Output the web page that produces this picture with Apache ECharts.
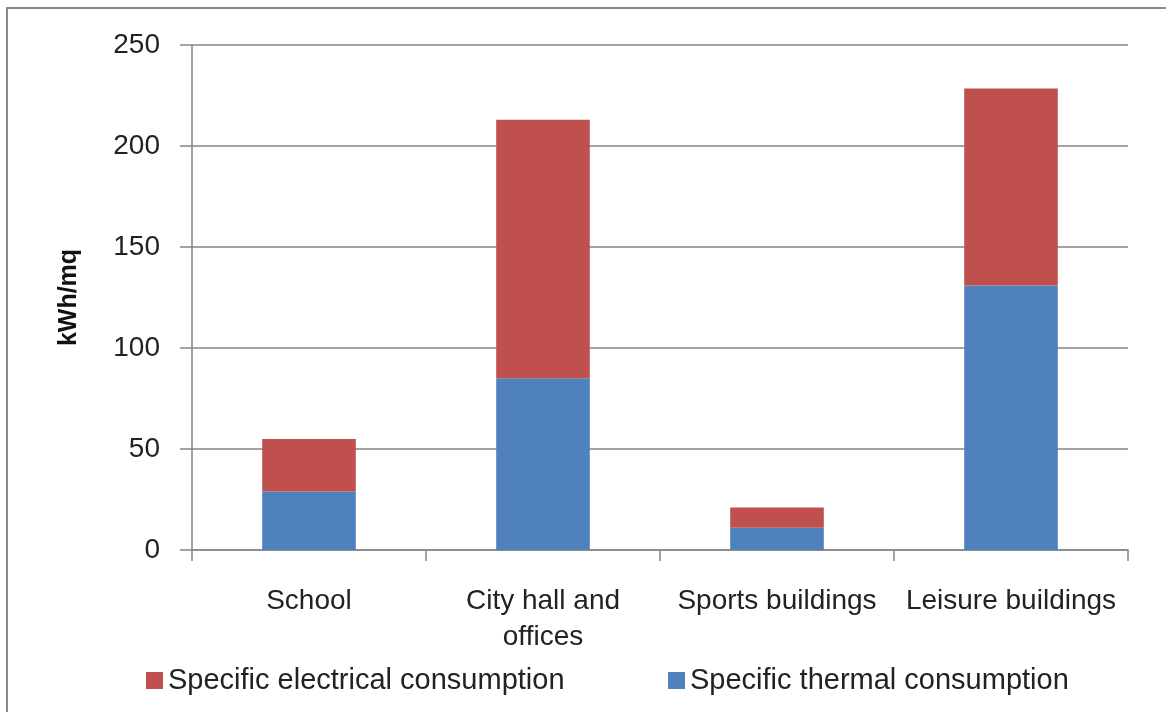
<!DOCTYPE html>
<html>
<head>
<meta charset="utf-8">
<script src="https://cdn.jsdelivr.net/npm/echarts@6/dist/echarts.min.js"></script>
<style>html,body{margin:0;padding:0;background:#fff;}#c{width:1166px;height:712px;}</style>
</head>
<body>
<div id="c"></div>
<script>
const categories = ["School", "City hall and\noffices", "Sports buildings", "Leisure buildings"];
const thermal = [29, 85, 11, 131];
const electrical = [26, 128, 10, 97.5];
const yTicks = [0, 50, 100, 150, 200, 250];
const seriesNames = ["Specific electrical consumption", "Specific thermal consumption"];

const font = "Liberation Sans";
const chart = echarts.init(document.getElementById('c'), null, {renderer: 'canvas'});
chart.setOption({
  animation: false,
  backgroundColor: '#fff',
  textStyle: {fontFamily: font},
  graphic: [{
    type: 'rect', shape: {x: 7, y: 8, width: 1200, height: 760},
    style: {fill: 'none', stroke: '#8a8a8a', lineWidth: 2}
  }],
  grid: {left: 192, right: 38, top: 45, bottom: 162},
  legend: [{
    left: 141, top: 661, itemWidth: 17, itemHeight: 17, itemGap: 8,
    icon: 'rect', data: [seriesNames[0]],
    textStyle: {fontSize: 29, color: '#222', fontFamily: font}
  }, {
    left: 663, top: 661, itemWidth: 17, itemHeight: 17, itemGap: 8,
    icon: 'rect', data: [seriesNames[1]],
    textStyle: {fontSize: 29, color: '#222', fontFamily: font}
  }],
  xAxis: {
    type: 'category', data: categories,
    axisLine: {lineStyle: {color: '#868686', width: 1.5}},
    axisTick: {show: true, length: 11, lineStyle: {color: '#868686', width: 1.5}},
    axisLabel: {fontSize: 28, color: '#222', margin: 33, lineHeight: 36, interval: 0, fontFamily: font}
  },
  yAxis: {
    type: 'value', min: yTicks[0], max: yTicks[yTicks.length - 1], interval: 50,
    name: 'kWh/mq', nameLocation: 'middle', nameGap: 110,
    nameTextStyle: {fontSize: 25, fontWeight: 'bold', color: '#111', fontFamily: font},
    axisLine: {show: true, lineStyle: {color: '#868686', width: 1.5}},
    axisTick: {show: true, length: 12, lineStyle: {color: '#868686', width: 1.5}},
    axisLabel: {fontSize: 28, color: '#222', margin: 32, fontFamily: font},
    splitLine: {lineStyle: {color: '#868686', width: 1.5}}
  },
  series: [{
    name: seriesNames[1], type: 'bar', stack: 'total', data: thermal,
    barWidth: '40%', itemStyle: {color: '#4F81BD'}
  }, {
    name: seriesNames[0], type: 'bar', stack: 'total', data: electrical,
    barWidth: '40%', itemStyle: {color: '#C0504D'}
  }]
});
</script>
</body>
</html>
